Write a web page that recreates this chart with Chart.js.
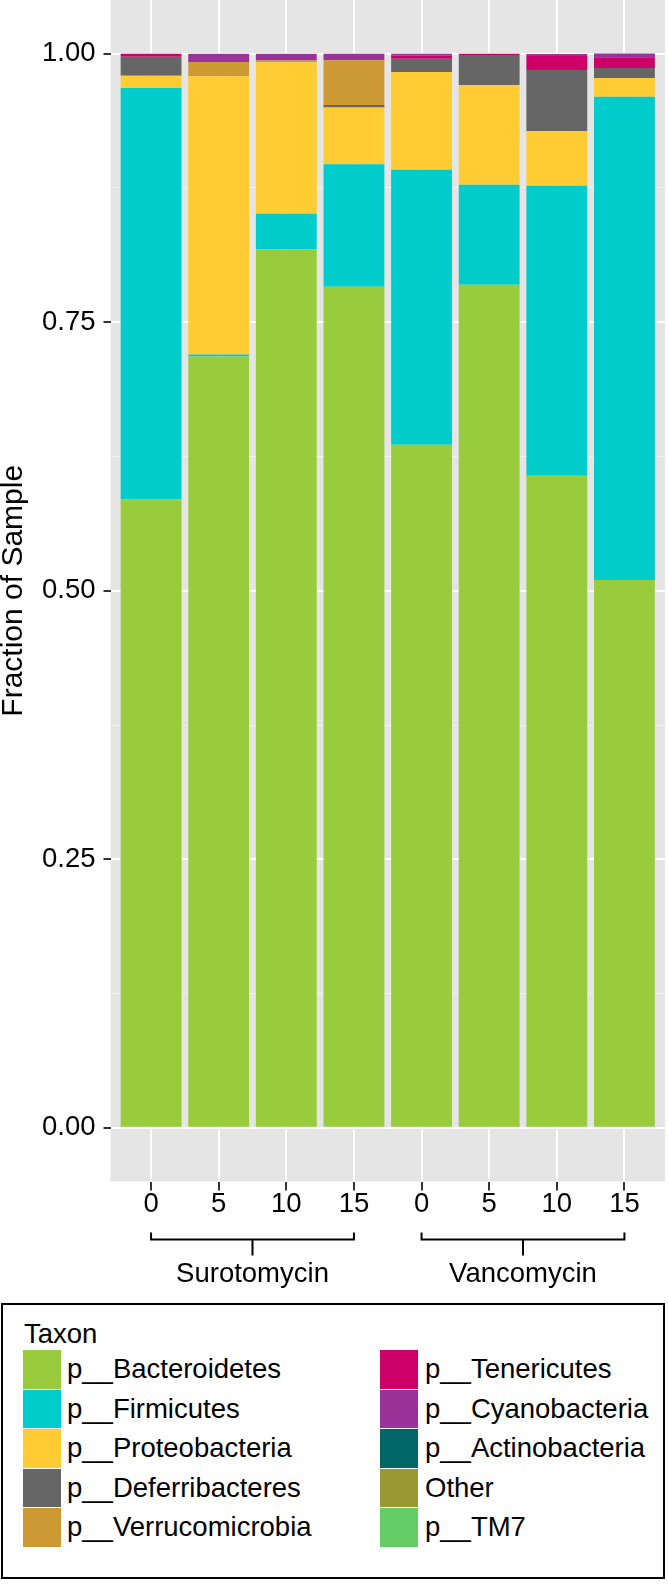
<!DOCTYPE html>
<html>
<head>
<meta charset="utf-8">
<script src="https://cdn.jsdelivr.net/npm/chart.js@4.4.1/dist/chart.umd.min.js"></script>
<style>
html,body{margin:0;padding:0;background:#fff;width:668px;height:1584px;overflow:hidden;font-family:"Liberation Sans",Arial,sans-serif;}
#wrap{position:absolute;left:0;top:0;width:668px;height:1300px;}
#legend{position:absolute;left:1px;top:1303px;width:664px;height:276px;border:2px solid #000;box-sizing:border-box;color:#000;}
#legend .ttl{position:absolute;left:21px;top:15px;font-size:27.5px;line-height:27.5px;white-space:nowrap;}
#legend .key{position:absolute;width:38px;height:38.5px;}
#legend .lab{position:absolute;height:38.5px;line-height:38.5px;font-size:27.5px;white-space:nowrap;}
</style>
</head>
<body>
<div id="wrap"><canvas id="c" width="668" height="1300"></canvas></div>
<div id="legend"></div>
<script>
// ---- data ----
const categories = ['0', '5', '10', '15', '0', '5', '10', '15'];
const groupNames = ['Surotomycin', 'Vancomycin'];
const groupOfCategory = [0, 0, 0, 0, 1, 1, 1, 1];
const yMajorTicks = [0, 0.25, 0.5, 0.75, 1];
const yMajorLabels = ['0.00', '0.25', '0.50', '0.75', '1.00'];
const yMinorTicks = [0.125, 0.375, 0.625, 0.875];

const taxonNames = ['p__Bacteroidetes', 'p__Firmicutes', 'p__Proteobacteria', 'p__Deferribacteres',
  'p__Verrucomicrobia', 'p__Tenericutes', 'p__Cyanobacteria', 'p__Actinobacteria', 'Other', 'p__TM7'];

const bacteroidetes   = [0.585, 0.718, 0.818, 0.783, 0.636, 0.785, 0.607, 0.510];
const firmicutes      = [0.383, 0.002, 0.033, 0.114, 0.256, 0.093, 0.270, 0.450];
const proteobacteria  = [0.0115, 0.259, 0.141, 0.0528, 0.091, 0.0929, 0.051, 0.0174];
const deferribacteres = [0.0177, 0, 0, 0.0025, 0.0124, 0.0279, 0.0568, 0.0093];
const verrucomicrobia = [0, 0.0133, 0.0016, 0.0416, 0, 0, 0, 0];
const tenericutes     = [0.0028, 0, 0, 0, 0.003, 0.0012, 0.013, 0.0099];
const cyanobacteria   = [0, 0.0074, 0.0061, 0.0061, 0.0015, 0, 0.002, 0.0037];
const actinobacteria  = [0, 0, 0, 0, 0, 0, 0, 0];
const other           = [0, 0.0003, 0.0003, 0, 0, 0, 0, 0];
const tm7             = [0, 0, 0, 0, 0, 0, 0, 0];

const seriesValues = [bacteroidetes, firmicutes, proteobacteria, deferribacteres, verrucomicrobia,
  tenericutes, cyanobacteria, actinobacteria, other, tm7];

// ---- styles ----
const taxonColors = ['#99CC3D', '#00CCCC', '#FFCC33', '#666666', '#CC9933',
  '#CC0066', '#993399', '#006666', '#999933', '#66CC66'];
const FONT = '"Liberation Sans", Arial, sans-serif';
const FS = 27.5;

Chart.defaults.font.family = FONT;
Chart.defaults.color = '#000';

const datasets = taxonNames.map((name, k) => ({
  label: name,
  data: seriesValues[k].map((v, i) => ({x: i + 1, y: v})),
  backgroundColor: taxonColors[k],
  borderWidth: 0,
  barPercentage: 0.9,
  categoryPercentage: 1.0,
  stack: 'all'
}));

const isMajor = v => yMajorTicks.some(t => Math.abs(t - v) < 1e-9);

const panelBg = {
  id: 'panelBg',
  beforeDraw(chart) {
    const a = chart.chartArea, ctx = chart.ctx;
    ctx.save();
    ctx.fillStyle = '#E5E5E5';
    ctx.fillRect(a.left, 0, a.right - a.left, a.bottom);
    ctx.restore();
  }
};

const brackets = {
  id: 'brackets',
  afterDraw(chart) {
    const xs = chart.scales.x, ctx = chart.ctx, b = chart.chartArea.bottom;
    ctx.save();
    ctx.strokeStyle = '#000';
    ctx.fillStyle = '#000';
    ctx.lineWidth = 2;
    ctx.font = FS + 'px ' + FONT;
    ctx.textAlign = 'center';
    ctx.textBaseline = 'alphabetic';
    groupNames.forEach((g, gi) => {
      const idx = groupOfCategory.map((q, i) => q === gi ? i : -1).filter(i => i >= 0);
      const x1 = xs.getPixelForValue(idx[0] + 1);
      const x2 = xs.getPixelForValue(idx[idx.length - 1] + 1);
      const mid = (x1 + x2) / 2;
      const yH = b + 58;
      ctx.beginPath();
      ctx.moveTo(x1, yH - 7); ctx.lineTo(x1, yH); ctx.lineTo(x2, yH); ctx.lineTo(x2, yH - 7);
      ctx.moveTo(mid, yH); ctx.lineTo(mid, yH + 16);
      ctx.stroke();
      ctx.fillText(g, mid, b + 100);
    });
    ctx.restore();
  }
};

new Chart(document.getElementById('c'), {
  type: 'bar',
  data: { datasets },
  options: {
    responsive: false,
    animation: false,
    devicePixelRatio: 1,
    layout: { padding: { left: 0, right: 3, top: 0, bottom: 0 } },
    plugins: { legend: { display: false }, tooltip: { enabled: false } },
    scales: {
      x: {
        type: 'linear', min: 0.4, max: 8.6, stacked: true, offset: false,
        afterBuildTicks: s => { s.ticks = categories.map((c, i) => ({ value: i + 1 })); },
        afterFit: s => { s.height = 118.5; s.paddingLeft = 0; s.paddingRight = 0; },
        grid: { offset: false, color: '#FFFFFF', lineWidth: 2, drawTicks: true, tickLength: 9, tickColor: '#333', tickWidth: 2 },
        border: { display: false },
        ticks: {
          autoSkip: false, maxRotation: 0, minRotation: 0, padding: 0, color: '#000',
          font: { size: FS, lineHeight: 1.0 },
          callback: v => { const i = Math.round(v) - 1; return categories[i] !== undefined ? categories[i] : ''; }
        }
      },
      y: {
        type: 'linear', min: -0.05, max: 1.05, stacked: true,
        afterBuildTicks: s => {
          s.ticks = yMajorTicks.concat(yMinorTicks).sort((a, b) => a - b).map(v => ({ value: v }));
        },
        afterFit: s => { s.width = 110.5; s.paddingTop = 0; s.paddingBottom = 0; },
        grid: {
          offset: false,
          color: c => isMajor(c.tick.value) ? '#FFFFFF' : '#F2F2F2',
          lineWidth: c => isMajor(c.tick.value) ? 2 : 1,
          drawTicks: true, tickLength: 7,
          tickColor: c => isMajor(c.tick.value) ? '#333' : 'rgba(0,0,0,0)',
          tickWidth: 2
        },
        border: { display: false },
        ticks: {
          autoSkip: false, padding: 8, color: '#000',
          font: { size: FS },
          callback: v => { const j = yMajorTicks.findIndex(t => Math.abs(t - v) < 1e-9); return j >= 0 ? yMajorLabels[j] : ''; }
        },
        title: { display: true, text: 'Fraction of Sample', color: '#000', font: { size: 30, lineHeight: 1.0 }, padding: { top: -1, bottom: 0 } }
      }
    }
  },
  plugins: [panelBg, brackets]
});

// ---- legend (HTML) ----
const leg = document.getElementById('legend');
const t = document.createElement('div');
t.className = 'ttl'; t.textContent = 'Taxon'; leg.appendChild(t);
const colKeyX = [20, 377];
const colLabX = [64, 422];
taxonNames.forEach((name, k) => {
  const col = Math.floor(k / 5), row = k % 5;
  const top = 45 + row * 39.5;
  const key = document.createElement('div');
  key.className = 'key';
  key.style.left = colKeyX[col] + 'px'; key.style.top = top + 'px';
  key.style.background = taxonColors[k];
  leg.appendChild(key);
  const lab = document.createElement('div');
  lab.className = 'lab';
  lab.style.left = colLabX[col] + 'px'; lab.style.top = top + 'px';
  lab.textContent = name;
  leg.appendChild(lab);
});
</script>
</body>
</html>
